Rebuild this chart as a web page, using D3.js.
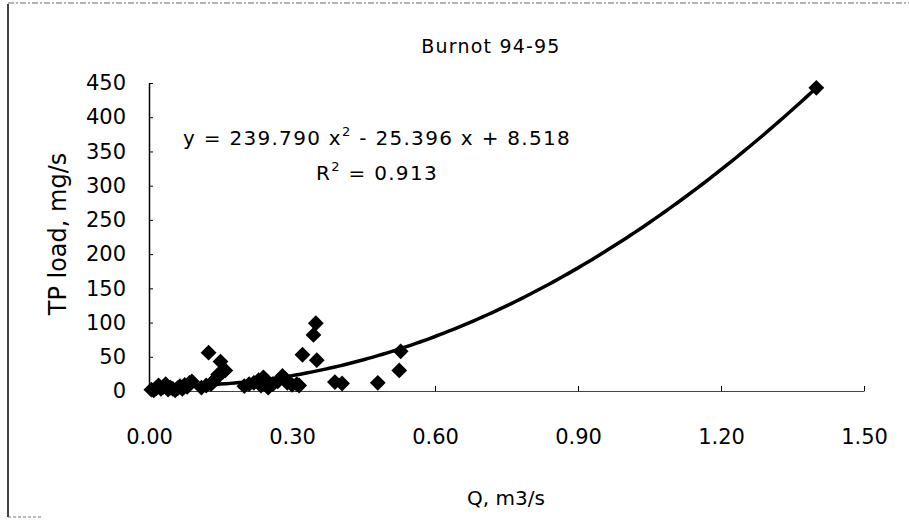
<!DOCTYPE html>
<html><head><meta charset="utf-8">
<script src="https://cdn.jsdelivr.net/npm/d3@7"></script>
<style>body{margin:0;background:#fff}svg{display:block}text{font-family:"DejaVu Sans",Verdana,sans-serif;fill:#000}</style>
</head><body><svg id="c" width="909" height="522"></svg>
<script>
// Data
const qValues = [0.005,0.010,0.015,0.020,0.025,0.030,0.035,0.040,0.045,0.050,0.055,0.060,0.065,0.070,0.075,0.080,0.085,0.090,
  0.110,0.120,0.125,0.130,0.135,0.140,0.145,0.150,0.155,0.160,
  0.200,0.210,0.220,0.230,0.235,0.240,0.250,0.260,0.270,0.280,0.285,0.290,0.300,0.310,0.315,
  0.322,0.345,0.350,0.352,0.390,0.405,0.480,0.525,0.528,1.400];
const tpValues = [2,1,4,8,3,6,10,2,5,3,1,4,7,3,9,6,12,14,
  5,8,56,10,14,18,24,43,28,30,
  7,10,12,16,8,20,5,10,14,22,18,12,9,10,8,
  53,82,99,45,13,11,12,30,58,443];
const trendCoefs = [239.790, -25.396, 8.518];
const xTicks = [0, 0.3, 0.6, 0.9, 1.2, 1.5];
const yTicks = [0, 50, 100, 150, 200, 250, 300, 350, 400, 450];
const titleText = "Burnot 94-95";
const xTitle = "Q, m3/s";
const yTitle = "TP load, mg/s";

const svg = d3.select("#c");
const x = d3.scaleLinear().domain([0, 1.5]).range([149, 864]);
const y = d3.scaleLinear().domain([0, 450]).range([391, 83]);

// frame
svg.append("line").attr("x1",8).attr("x2",8).attr("y1",4).attr("y2",517).attr("stroke","#000").attr("stroke-width",1.5);
svg.append("line").attr("x1",8).attr("x2",909).attr("y1",3).attr("y2",3).attr("stroke","#666").attr("stroke-width",1).attr("stroke-dasharray","6,2,2,2");
svg.append("line").attr("x1",8).attr("x2",42).attr("y1",517).attr("y2",517).attr("stroke","#777").attr("stroke-width",1).attr("stroke-dasharray","3,2");

// axes
const xAxis = d3.axisBottom(x).tickValues(xTicks).tickFormat(d3.format(".2f")).tickSizeInner(-5).tickSizeOuter(0).tickPadding(38);
const gx = svg.append("g").attr("transform","translate(0,391)").call(xAxis);
gx.select(".domain").attr("stroke","#444").attr("stroke-width",1.2);
gx.selectAll(".tick line").attr("stroke","#000");
gx.selectAll("text").style("font-family","DejaVu Sans").style("font-size","21px").attr("fill","#000");

const yAxis = d3.axisLeft(y).tickValues(yTicks).tickSizeInner(-4).tickSizeOuter(0).tickPadding(23);
const gy = svg.append("g").attr("transform","translate(149,0)").call(yAxis);
gy.select(".domain").attr("stroke","#000").attr("stroke-width",1.5);
gy.selectAll(".tick line").attr("stroke","#000");
gy.selectAll("text").style("font-family","DejaVu Sans").style("font-size","21px").attr("fill","#000");

// trendline
const curveX = d3.range(0, 1.4001, 0.01);
const poly = q => trendCoefs[0]*q*q + trendCoefs[1]*q + trendCoefs[2];
svg.append("path").datum(curveX)
  .attr("d", d3.line().x(d=>x(d)).y(d=>y(poly(d))).curve(d3.curveBasis))
  .attr("fill","none").attr("stroke","#000").attr("stroke-width",3.5);

// points
const pts = qValues.map((q,i)=>({q, v: tpValues[i]}));
svg.append("g").selectAll("path").data(pts).join("path")
  .attr("d", d3.symbol().type(d3.symbolSquare).size(125)())
  .attr("transform", d=>`translate(${x(d.q)},${y(d.v)}) rotate(45)`)
  .attr("fill","#000");

// texts
svg.append("text").attr("x",491).attr("y",53).attr("text-anchor","middle").style("font-size","19px").style("letter-spacing","1.2px").text(titleText);
const eq = svg.append("text").attr("x",377).attr("y",145).attr("text-anchor","middle").style("font-size","20px").style("letter-spacing","1.3px");
eq.append("tspan").text("y = 239.790 x");
eq.append("tspan").attr("dy",-9).style("font-size","13px").text("2");
eq.append("tspan").attr("dy",9).text(" - 25.396 x + 8.518");
const r2 = svg.append("text").attr("x",377).attr("y",180).attr("text-anchor","middle").style("font-size","20px").style("letter-spacing","1.3px");
r2.append("tspan").text("R");
r2.append("tspan").attr("dy",-9).style("font-size","13px").text("2");
r2.append("tspan").attr("dy",9).text(" = 0.913");
svg.append("text").attr("x",506).attr("y",505).attr("text-anchor","middle").style("font-size","20px").text(xTitle);
svg.append("text").attr("transform","translate(66,234) rotate(-90)").attr("text-anchor","middle").style("font-size","24px").text(yTitle);
</script></body></html>
